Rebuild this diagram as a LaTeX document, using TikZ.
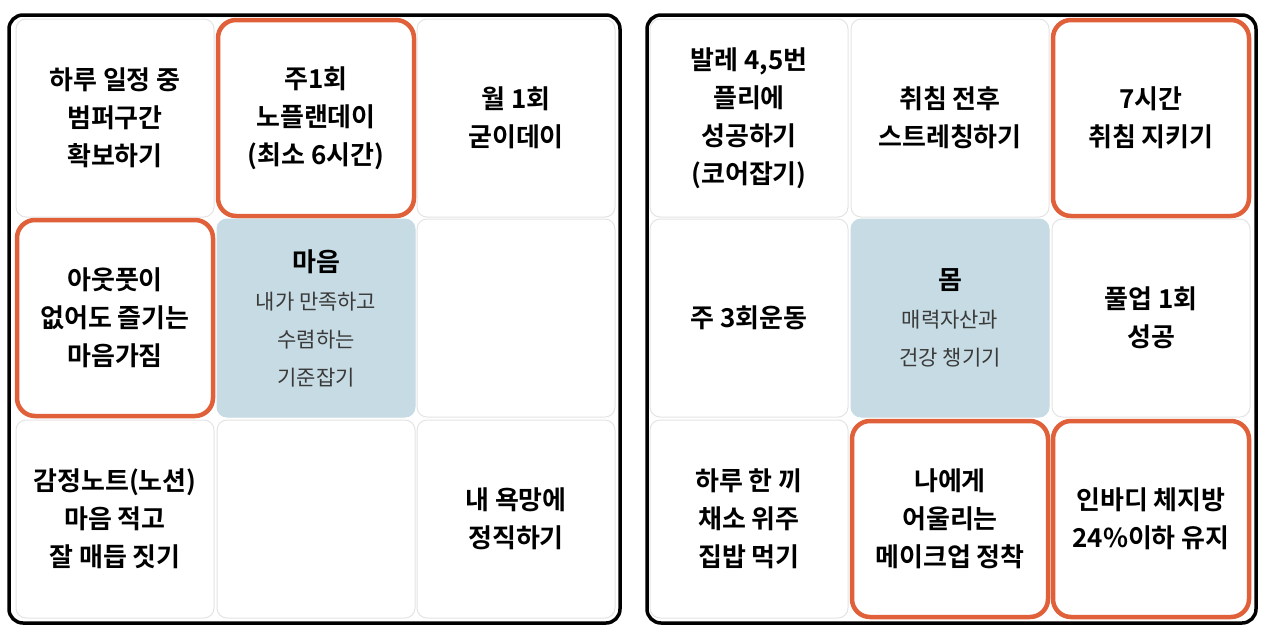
\documentclass[tikz,border=0pt]{standalone}
\usepackage{fontspec}
\newfontfamily\kr{Noto Sans CJK KR}
\newfontfamily\krb{Noto Sans CJK KR Bold}
\definecolor{org}{HTML}{E0603A}
\definecolor{cellb}{HTML}{E4E4E4}
\definecolor{blu}{HTML}{C6DBE3}
\definecolor{ctxt}{HTML}{3A3A3A}
\tikzset{
 cell/.style={draw=cellb,line width=1pt,rounded corners=10pt,minimum width=198pt,minimum height=198pt,align=center,font=\fontsize{26}{38}\krb,inner sep=0pt},
 hl/.style={cell,draw=org,line width=4.5pt,rounded corners=18pt,minimum width=196pt,minimum height=196pt},
 ctr/.style={cell,fill=blu,draw=blu},
 frame/.style={draw=black,line width=3.5pt,rounded corners=14pt}
}
\newcommand{\sm}[1]{{\fontsize{21}{29}\kr\color{ctxt}#1}}
\begin{document}
\begin{tikzpicture}[x=1pt,y=-1pt]
\useasboundingbox[fill=white] (0,0) rectangle (1280,641);
\draw[frame] (9,15) rectangle (620,623);
\draw[frame] (647,15) rectangle (1256,623);
% left
\node[cell] (l00) at (115,118) {하루 일정 중\\범퍼구간\\확보하기};
\node[hl] (l01) at (316,118) {주1회\\노플랜데이\\(최소 6시간)};
\node[cell] (l02) at (516,118) {월 1회\\굳이데이};
\node[hl] (l10) at (115,318) {아웃풋이\\없어도 즐기는\\마음가짐};
\node[ctr] (l11) at (316,318) {마음\\\sm{내가 만족하고}\\\sm{수렴하는}\\\sm{기준잡기}};
\node[cell] (l12) at (516,318) {};
\node[cell] (l20) at (115,519) {감정노트(노션)\\마음 적고\\잘 매듭 짓기};
\node[cell] (l21) at (316,519) {};
\node[cell] (l22) at (516,519) {내 욕망에\\정직하기};
% right
\node[cell] (r00) at (749,118) {발레 4,5번\\플리에\\성공하기\\(코어잡기)};
\node[cell] (r01) at (950,118) {취침 전후\\스트레칭하기};
\node[hl] (r02) at (1151,118) {7시간\\취침 지키기};
\node[cell] (r10) at (749,318) {주 3회운동};
\node[ctr] (r11) at (950,318) {몸\\\sm{매력자산과}\\\sm{건강 챙기기}};
\node[cell] (r12) at (1151,318) {풀업 1회\\성공};
\node[cell] (r20) at (749,519) {하루 한 끼\\채소 위주\\집밥 먹기};
\node[hl] (r21) at (950,519) {나에게\\어울리는\\메이크업 정착};
\node[hl] (r22) at (1151,519) {인바디 체지방\\24\%이하 유지};
\end{tikzpicture}
\end{document}
